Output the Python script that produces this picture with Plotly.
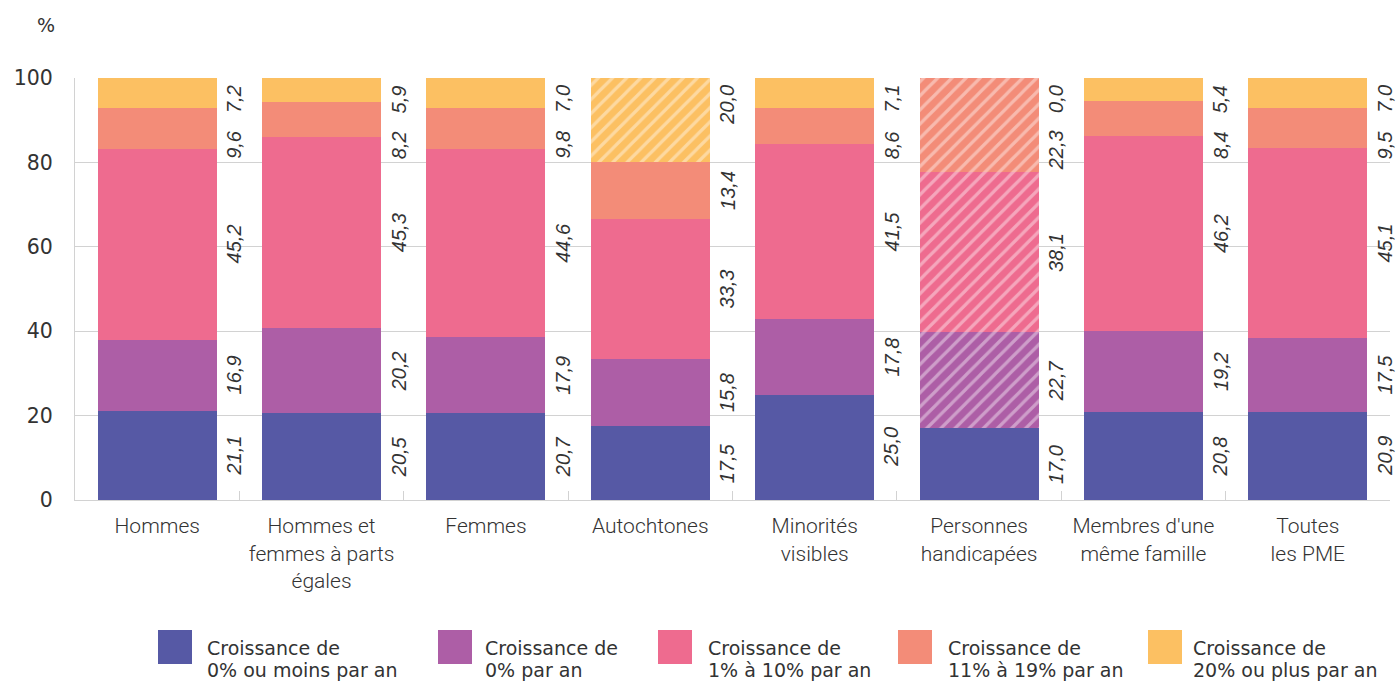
import plotly.graph_objects as go

categories = ["Hommes", "Hommes et<br>femmes à parts<br>égales", "Femmes", "Autochtones",
              "Minorités<br>visibles", "Personnes<br>handicapées", "Membres d'une<br>même famille",
              "Toutes<br>les PME"]
legend_line1 = ["Croissance de"] * 5
legend_line2 = ["0% ou moins par an", "0% par an", "1% à 10% par an", "11% à 19% par an",
                "20% ou plus par an"]
s_neg = [21.1, 20.5, 20.7, 17.5, 25.0, 17.0, 20.8, 20.9]
s_zero = [16.9, 20.2, 17.9, 15.8, 17.8, 22.7, 19.2, 17.5]
s_1_10 = [45.2, 45.3, 44.6, 33.3, 41.5, 38.1, 46.2, 45.1]
s_11_19 = [9.6, 8.2, 9.8, 13.4, 8.6, 22.3, 8.4, 9.5]
s_20 = [7.2, 5.9, 7.0, 20.0, 7.1, 0.0, 5.4, 7.0]
# hatched (lower reliability) flags per series
hatch_neg = [0, 0, 0, 0, 0, 0, 0, 0]
hatch_zero = [0, 0, 0, 0, 0, 1, 0, 0]
hatch_1_10 = [0, 0, 0, 0, 0, 1, 0, 0]
hatch_11_19 = [0, 0, 0, 0, 0, 1, 0, 0]
hatch_20 = [0, 0, 0, 1, 0, 0, 0, 0]
y_ticks = [0, 20, 40, 60, 80, 100]

colors = ["#5659A5", "#AD5EA6", "#EE6B8F", "#F38C78", "#FCC062"]
all_series = [s_neg, s_zero, s_1_10, s_11_19, s_20]
all_hatch = [hatch_neg, hatch_zero, hatch_1_10, hatch_11_19, hatch_20]

TICKFONT = "DejaVu Sans"
CATFONT = "Roboto"
LABFONT = "Liberation Sans"
TXT = "#333333"
GRID = "#d2d2d2"

W, H = 1396, 681
PLOT_L, PLOT_R, PLOT_TOP, PLOT_BOT = 75, 1390, 78, 500

fig = go.Figure()
for name1, name2, vals, col, h in zip(legend_line1, legend_line2, all_series, colors, all_hatch):
    fig.add_trace(go.Bar(
        x=categories, y=vals, name=name1 + " " + name2,
        marker=dict(color=col, line=dict(width=0),
                    pattern=dict(shape=["/" if f else "" for f in h],
                                 fgcolor="white", fgopacity=0.4, size=10, solidity=0.32)),
        showlegend=False, hoverinfo="skip"))

# value labels (rotated), positioned in pixel space to avoid overlap
k = (PLOT_BOT - PLOT_TOP) / 100.0
LAB_SIZE = 20

def text_len(s):
    return sum(0.278 * LAB_SIZE if c == "," else 0.556 * LAB_SIZE for c in s)

for i in range(len(categories)):
    vals = [s[i] for s in all_series]
    cum = [sum(vals[:j]) for j in range(len(vals) + 1)]
    prev_bottom = None
    for j in reversed(range(len(vals))):
        t = f"{vals[j]:.1f}".replace(".", ",")
        L = text_len(t)
        if j == len(vals) - 1:
            top = PLOT_TOP + 7
        else:
            mid = (cum[j] + cum[j + 1]) / 2
            top = (PLOT_BOT - mid * k) - L / 2
            if prev_bottom is not None and top < prev_bottom + 18:
                top = prev_bottom + 18
        prev_bottom = top + L
        cy = top + L / 2
        fig.add_annotation(x=i + 0.468, y=(PLOT_BOT - cy) / k, xref="x", yref="y",
                           text="<i>" + t + "</i>", textangle=-90, showarrow=False,
                           xanchor="center", yanchor="middle",
                           font=dict(family=LABFONT, size=LAB_SIZE, color=TXT))

# legend drawn manually (page pixel coords -> paper)
sw_x = [158, 438, 658, 898, 1148]
tx_x = [207, 485, 708, 948, 1193]

def px(x):
    return (x - PLOT_L) / (PLOT_R - PLOT_L)

def py(y):
    return (PLOT_BOT - y) / (PLOT_BOT - PLOT_TOP)

for l1, l2, col, sx, tx in zip(legend_line1, legend_line2, colors, sw_x, tx_x):
    fig.add_shape(type="rect", xref="paper", yref="paper", x0=px(sx), x1=px(sx + 34),
                  y0=py(664), y1=py(630), fillcolor=col, line=dict(width=0))
    for line, yy in ((l1, 648), (l2, 670)):
        fig.add_annotation(xref="paper", yref="paper", x=px(tx), y=py(yy), text=line,
                           showarrow=False, xanchor="left", yanchor="middle", align="left",
                           xshift=-2, font=dict(family=TICKFONT, size=19, color=TXT))

fig.add_annotation(xref="paper", yref="paper", x=px(46), y=py(25), text="%", showarrow=False,
                   xanchor="center", yanchor="middle",
                   font=dict(family=TICKFONT, size=19, color=TXT))

fig.update_layout(
    width=W, height=H,
    margin=dict(l=PLOT_L, r=W - PLOT_R, t=PLOT_TOP, b=H - PLOT_BOT, autoexpand=False),
    barmode="stack", bargap=0.276,
    plot_bgcolor="white", paper_bgcolor="white",
    font=dict(family=TICKFONT, size=20, color=TXT),
    xaxis=dict(type="category", categoryorder="array", categoryarray=categories,
               range=[-0.5, len(categories) - 0.5], autorange=False,
               showgrid=False, showline=True, linecolor=GRID, linewidth=1,
               ticks="inside", tickson="boundaries", ticklen=9, tickcolor=GRID,
               ticklabelstandoff=7,
               tickfont=dict(family=CATFONT, size=21, color=TXT, weight=300)),
    yaxis=dict(range=[0, 100], autorange=False, tickvals=y_ticks, showgrid=True,
               gridcolor=GRID, gridwidth=1, showline=True, linecolor=GRID, linewidth=1,
               zeroline=False, ticks="", ticklabelstandoff=17,
               tickfont=dict(family=TICKFONT, size=20.5, color=TXT)),
)
fig.write_html("out.html", config={"displayModeBar": False},
               post_script="document.body.style.margin='0px';document.body.style.overflow='hidden';")
